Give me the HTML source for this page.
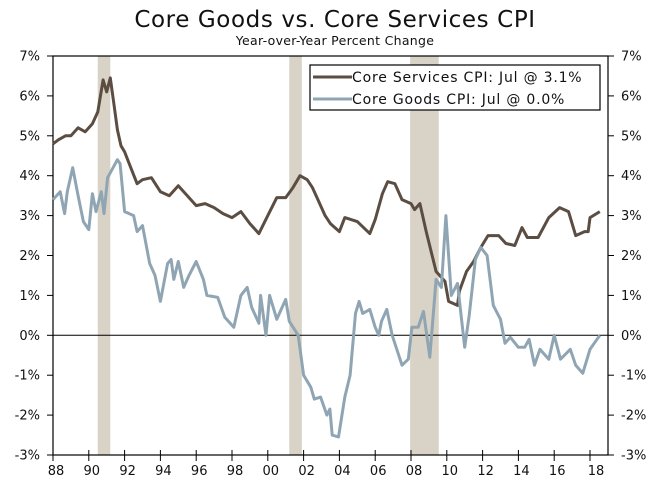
<!DOCTYPE html>
<html><head><meta charset="utf-8"><style>
body{margin:0;background:#fff;}
svg text{font-family:"DejaVu Sans","Liberation Sans",sans-serif;fill:#111;}
</style></head><body>
<svg id="chart" width="669" height="496" viewBox="0 0 669 496">
<text x="335" y="27" text-anchor="middle" font-size="23" letter-spacing="0.6">Core Goods vs. Core Services CPI</text>
<text x="335" y="45" text-anchor="middle" font-size="12.5" letter-spacing="0.3">Year-over-Year Percent Change</text>
<g id="rec"></g><g id="axes"></g><g id="lines"></g>
<g>
<rect x="310" y="65" width="290" height="45" fill="#fff" stroke="#000" stroke-width="1.2"/>
<line x1="313" y1="77" x2="352" y2="77" stroke="#5b4d42" stroke-width="3"/>
<text x="352" y="82" font-size="14" letter-spacing="0.8">Core Services CPI: Jul @ 3.1%</text>
<line x1="313" y1="99" x2="352" y2="99" stroke="#8fa5b3" stroke-width="3"/>
<text x="352" y="104" font-size="14" letter-spacing="0.8">Core Goods CPI: Jul @ 0.0%</text>
</g>
</svg>
<script>
const yTicks=[7,6,5,4,3,2,1,0,-1,-2,-3];
const xTickYears=[1988,1990,1992,1994,1996,1998,2000,2002,2004,2006,2008,2010,2012,2014,2016,2018];
const xTickLabels=["88","90","92","94","96","98","00","02","04","06","08","10","12","14","16","18"];
const recessions=[[1990.5,1991.2],[2001.2,2001.9],[2007.95,2009.55]];
const svcDates=[1988.0,1988.3,1988.7,1989.0,1989.4,1989.8,1990.2,1990.5,1990.8,1991.0,1991.2,1991.4,1991.6,1991.8,1992.0,1992.3,1992.7,1993.0,1993.5,1994.0,1994.5,1995.0,1995.5,1996.0,1996.5,1997.0,1997.5,1998.0,1998.5,1999.0,1999.5,2000.0,2000.5,2001.0,2001.4,2001.8,2002.2,2002.5,2002.8,2003.2,2003.5,2004.0,2004.3,2005.0,2005.7,2006.0,2006.4,2006.7,2007.1,2007.5,2008.0,2008.2,2008.5,2008.85,2009.4,2009.9,2010.1,2010.6,2010.7,2011.1,2011.5,2011.9,2012.3,2012.9,2013.3,2013.8,2014.2,2014.5,2015.1,2015.7,2016.3,2016.8,2017.2,2017.7,2017.9,2018.0,2018.55];
const svcVals=[4.8,4.9,5.0,5.0,5.2,5.1,5.3,5.6,6.4,6.1,6.45,5.8,5.15,4.75,4.6,4.25,3.8,3.9,3.95,3.6,3.5,3.75,3.5,3.25,3.3,3.2,3.05,2.95,3.1,2.8,2.55,3.0,3.45,3.45,3.7,4.0,3.9,3.7,3.4,3.0,2.8,2.6,2.95,2.85,2.55,2.9,3.55,3.85,3.8,3.4,3.3,3.15,3.3,2.6,1.6,1.35,0.85,0.75,1.1,1.6,1.85,2.2,2.5,2.5,2.3,2.25,2.7,2.45,2.45,2.95,3.2,3.1,2.5,2.6,2.6,2.95,3.1];
const gdsDates=[1988.0,1988.4,1988.65,1988.8,1989.1,1989.4,1989.7,1990.0,1990.2,1990.4,1990.7,1990.85,1991.05,1991.6,1991.75,1992.0,1992.5,1992.7,1993.0,1993.4,1993.7,1994.0,1994.4,1994.6,1994.75,1995.0,1995.3,1995.6,1996.0,1996.4,1996.6,1997.2,1997.6,1998.1,1998.5,1998.85,1999.1,1999.5,1999.6,1999.9,2000.1,2000.5,2000.7,2001.0,2001.2,2001.7,2002.0,2002.4,2002.6,2002.95,2003.3,2003.47,2003.6,2003.95,2004.3,2004.6,2004.9,2005.1,2005.3,2005.7,2006.0,2006.2,2006.35,2006.65,2006.95,2007.5,2007.85,2008.05,2008.4,2008.7,2009.05,2009.4,2009.7,2009.95,2010.25,2010.6,2011.0,2011.25,2011.6,2011.9,2012.25,2012.6,2013.0,2013.25,2013.55,2014.0,2014.35,2014.6,2014.9,2015.2,2015.7,2016.0,2016.35,2016.9,2017.2,2017.6,2018.0,2018.55];
const gdsVals=[3.4,3.6,3.05,3.6,4.2,3.5,2.85,2.65,3.55,3.1,3.6,3.05,3.95,4.4,4.3,3.1,3.0,2.6,2.75,1.8,1.5,0.85,1.8,1.9,1.4,1.85,1.2,1.5,1.85,1.4,1.0,0.95,0.45,0.2,1.0,1.2,0.7,0.3,1.0,0.0,1.0,0.4,0.6,0.9,0.35,0.0,-1.0,-1.3,-1.6,-1.55,-2.0,-1.85,-2.5,-2.55,-1.55,-1.0,0.55,0.85,0.55,0.65,0.2,0.0,0.35,0.65,0.0,-0.75,-0.6,0.2,0.2,0.6,-0.55,1.4,1.2,3.0,1.0,1.3,-0.3,0.5,1.9,2.2,2.0,0.75,0.4,-0.2,-0.05,-0.3,-0.3,-0.1,-0.75,-0.35,-0.6,0.0,-0.6,-0.35,-0.75,-0.95,-0.35,0.0];
const L=53,R=608,T=56,B=455;
const xs=yr=>L+(yr-1988)*17.9;
const ys=v=>T+(7-v)*(B-T)/10;
const NS="http://www.w3.org/2000/svg";
function mk(tag,attrs,parent){const e=document.createElementNS(NS,tag);for(const k in attrs)e.setAttribute(k,attrs[k]);parent.appendChild(e);return e;}
const rec=document.getElementById('rec'),ax=document.getElementById('axes'),ln=document.getElementById('lines');
recessions.forEach(r=>{
 const e=mk('rect',{x:xs(r[0]),y:T,width:xs(r[1])-xs(r[0]),height:B-T,fill:'#d8d3c6'},rec);
 
 
});
mk('rect',{x:L,y:T,width:R-L,height:B-T,fill:'none',stroke:'#000','stroke-width':1.2},ax);
const z=mk('line',{x1:L,x2:R,y1:ys(0),y2:ys(0),stroke:'#000','stroke-width':1},ax);


yTicks.forEach(v=>{
 const y=ys(v);
 mk('line',{x1:L-6,x2:L,y1:y,y2:y,stroke:'#000'},ax);
 mk('line',{x1:R,x2:R+6,y1:y,y2:y,stroke:'#000'},ax);
 const t1=mk('text',{x:L-13,y:y+4.5,'text-anchor':'end','font-size':13},ax);t1.textContent=v+'%';
 
 
 const t2=mk('text',{x:R+13,y:y+4.5,'text-anchor':'start','font-size':13},ax);t2.textContent=v+'%';
 
 
});
xTickYears.forEach((yr,i)=>{
 const x=xs(yr);
 mk('line',{x1:x,x2:x,y1:B-5,y2:B+6,stroke:'#000'},ax);
 const t=mk('text',{x:x+(i===xTickYears.length-1?6:3),y:B+20,'text-anchor':'middle','font-size':13},ax);t.textContent=xTickLabels[i];
 
 
});
function line(d,v,col,name){
 const p=mk('polyline',{points:d.map((yr,i)=>xs(yr).toFixed(1)+','+ys(v[i]).toFixed(1)).join(' '),fill:'none',stroke:col,'stroke-width':3,'stroke-linejoin':'round'},ln);
 
 
}
line(svcDates,svcVals,'#5b4d42','core-services-line');
line(gdsDates,gdsVals,'#8fa5b3','core-goods-line');
</script>
</body></html>
